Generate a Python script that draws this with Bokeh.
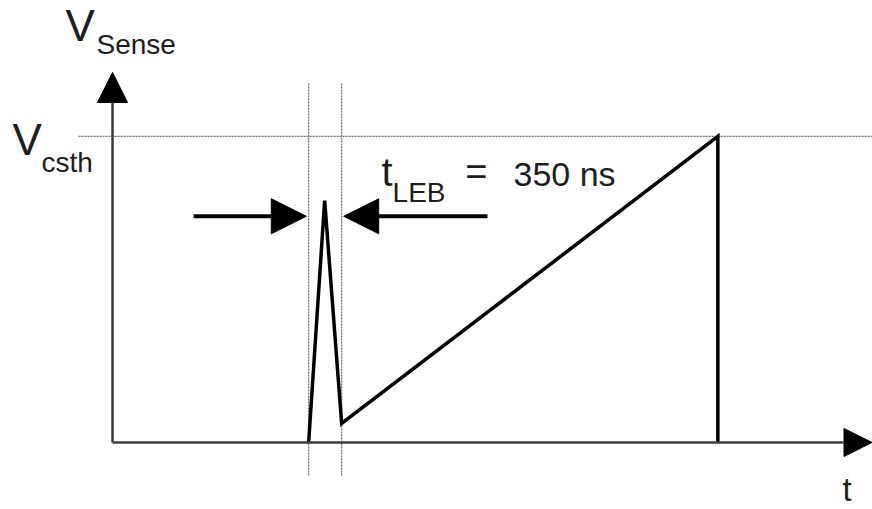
from bokeh.plotting import figure
from bokeh.models import Range1d, Arrow, NormalHead, Label
from bokeh.embed import file_html
from bokeh.resources import INLINE

# Current-sense waveform: time in ns, voltage normalised to the threshold Vcsth
wave_t = [2080, 2250, 2430, 6420, 6420]
wave_v = [0.0, 0.79, 0.062, 1.0, 0.0]

# Leading-edge blanking window
leb_start = 2080
leb_end = 2430
leb_label = "350 ns"
v_threshold = 1.0

FONT = "Liberation Sans"
INK = "#1e1e1e"
V_PER_PX = 1 / 306.0  # vertical data units per screen pixel

p = figure(width=872, height=509, output_backend="svg", toolbar_location=None,
           x_range=Range1d(-1188, 8060), y_range=Range1d(-0.219, 1.444),
           min_border=0)
p.xaxis.visible = False
p.yaxis.visible = False
p.grid.visible = False
p.outline_line_color = None
p.background_fill_color = "white"
p.border_fill_color = "white"

# Dotted guides: threshold level and the blanking window edges
p.line([-360, 8060], [v_threshold, v_threshold], line_color="#707070",
       line_width=1.3, line_dash="2 1")
for tx in (leb_start, leb_end):
    p.line([tx, tx], [-0.108, 1.173], line_color="#707070",
           line_width=1.3, line_dash="2 1")

# Axes with arrow heads
axis_col = "#3c3c3c"
p.add_layout(Arrow(x_start=0, y_start=0, x_end=8055, y_end=0,
                   line_color=axis_col, line_width=2.5,
                   end=NormalHead(size=28, fill_color="black", line_color="black", line_width=1)))
p.add_layout(Arrow(x_start=0, y_start=0, x_end=0, y_end=1.209,
                   line_color=axis_col, line_width=2.5,
                   end=NormalHead(size=30, fill_color="black", line_color="black", line_width=1)))

# Waveform: spike at turn-on, then the current ramp
p.line(wave_t, wave_v, line_color="black", line_width=3.5, line_join="miter")

# Blanking-time arrows pointing at the window edges
p.add_layout(Arrow(x_start=860, y_start=0.739, x_end=2055, y_end=0.739,
                   line_color="black", line_width=4,
                   end=NormalHead(size=35, fill_color="black", line_color="black", line_width=1)))
p.add_layout(Arrow(x_start=3977, y_start=0.739, x_end=2452, y_end=0.739,
                   line_color="black", line_width=4,
                   end=NormalHead(size=35, fill_color="black", line_color="black", line_width=1)))

def lab(x, y, text, size):
    # raise by the renderer's baseline offset so the glyph sits on y
    p.add_layout(Label(x=x, y=y + 0.4 * size * V_PER_PX, text=text, text_font=FONT,
                       text_font_size=f"{size}px", text_color=INK,
                       text_align="left", text_baseline="alphabetic"))

lab(-498, 1.304, "V", 44)
lab(-170, 1.265, "Sense", 28)
lab(-1061, 0.931, "V", 44)
lab(-753, 0.879, "csth", 28)
lab(2853, 0.833, "t", 40)
lab(2970, 0.781, "LEB", 28)
lab(3740, 0.833, "=", 38)
lab(4253, 0.833, leb_label, 34)
lab(7742, -0.196, "t", 33)

open("out.html", "w").write(file_html(p, INLINE))
